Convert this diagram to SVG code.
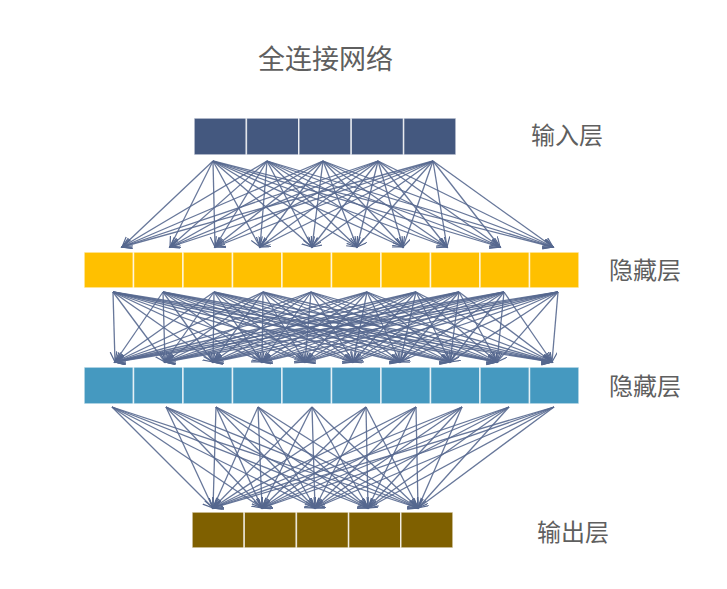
<svg xmlns="http://www.w3.org/2000/svg" width="727" height="589" viewBox="0 0 727 589">
<style>
.lbl{font-family:"Noto Sans CJK SC","Noto Sans",sans-serif;fill:#5f5f5f;font-size:24px}
.title{font-size:27px}
.cell{stroke:#ffffff;stroke-opacity:0.75;stroke-width:1.5}
.in{fill:#44587f}
.h1{fill:#ffc000}
.h2{fill:#4599c0}
.out{fill:#7f6000}
#connectors line{stroke:#56688f;stroke-width:1.3;stroke-opacity:0.9;marker-end:url(#ah)}
</style>
<defs>
<marker id="ah" markerWidth="12" markerHeight="10" refX="10" refY="4.5" orient="auto" markerUnits="userSpaceOnUse">
<path d="M0,0 L10,4.5 L0,9" fill="none" stroke="#56688f" stroke-width="1.2"/>
</marker>
</defs>
<rect width="727" height="589" fill="#ffffff"/>
<text class="lbl title" x="258" y="69">全连接网络</text>

<g id="connectors">
<!-- input -> hidden1 -->
<line x1="213" y1="161" x2="122" y2="247"/><line x1="213" y1="161" x2="170" y2="247"/><line x1="213" y1="161" x2="215" y2="247"/><line x1="213" y1="161" x2="260" y2="247"/><line x1="213" y1="161" x2="312" y2="247"/><line x1="213" y1="161" x2="357" y2="247"/><line x1="213" y1="161" x2="403" y2="247"/><line x1="213" y1="161" x2="447" y2="247"/><line x1="213" y1="161" x2="500" y2="247"/><line x1="213" y1="161" x2="553" y2="247"/>
<line x1="267" y1="161" x2="122" y2="247"/><line x1="267" y1="161" x2="170" y2="247"/><line x1="267" y1="161" x2="215" y2="247"/><line x1="267" y1="161" x2="260" y2="247"/><line x1="267" y1="161" x2="312" y2="247"/><line x1="267" y1="161" x2="357" y2="247"/><line x1="267" y1="161" x2="403" y2="247"/><line x1="267" y1="161" x2="447" y2="247"/><line x1="267" y1="161" x2="500" y2="247"/><line x1="267" y1="161" x2="553" y2="247"/>
<line x1="323" y1="161" x2="122" y2="247"/><line x1="323" y1="161" x2="170" y2="247"/><line x1="323" y1="161" x2="215" y2="247"/><line x1="323" y1="161" x2="260" y2="247"/><line x1="323" y1="161" x2="312" y2="247"/><line x1="323" y1="161" x2="357" y2="247"/><line x1="323" y1="161" x2="403" y2="247"/><line x1="323" y1="161" x2="447" y2="247"/><line x1="323" y1="161" x2="500" y2="247"/><line x1="323" y1="161" x2="553" y2="247"/>
<line x1="378" y1="161" x2="122" y2="247"/><line x1="378" y1="161" x2="170" y2="247"/><line x1="378" y1="161" x2="215" y2="247"/><line x1="378" y1="161" x2="260" y2="247"/><line x1="378" y1="161" x2="312" y2="247"/><line x1="378" y1="161" x2="357" y2="247"/><line x1="378" y1="161" x2="403" y2="247"/><line x1="378" y1="161" x2="447" y2="247"/><line x1="378" y1="161" x2="500" y2="247"/><line x1="378" y1="161" x2="553" y2="247"/>
<line x1="433" y1="161" x2="122" y2="247"/><line x1="433" y1="161" x2="170" y2="247"/><line x1="433" y1="161" x2="215" y2="247"/><line x1="433" y1="161" x2="260" y2="247"/><line x1="433" y1="161" x2="312" y2="247"/><line x1="433" y1="161" x2="357" y2="247"/><line x1="433" y1="161" x2="403" y2="247"/><line x1="433" y1="161" x2="447" y2="247"/><line x1="433" y1="161" x2="500" y2="247"/><line x1="433" y1="161" x2="553" y2="247"/>
<!-- hidden1 -> hidden2 -->
<line x1="113" y1="292" x2="115" y2="362"/><line x1="113" y1="292" x2="165" y2="362"/><line x1="113" y1="292" x2="213" y2="362"/><line x1="113" y1="292" x2="262" y2="362"/><line x1="113" y1="292" x2="305" y2="362"/><line x1="113" y1="292" x2="353" y2="362"/><line x1="113" y1="292" x2="400" y2="362"/><line x1="113" y1="292" x2="450" y2="362"/><line x1="113" y1="292" x2="497" y2="362"/><line x1="113" y1="292" x2="552" y2="362"/>
<line x1="163" y1="292" x2="115" y2="362"/><line x1="163" y1="292" x2="165" y2="362"/><line x1="163" y1="292" x2="213" y2="362"/><line x1="163" y1="292" x2="262" y2="362"/><line x1="163" y1="292" x2="305" y2="362"/><line x1="163" y1="292" x2="353" y2="362"/><line x1="163" y1="292" x2="400" y2="362"/><line x1="163" y1="292" x2="450" y2="362"/><line x1="163" y1="292" x2="497" y2="362"/><line x1="163" y1="292" x2="552" y2="362"/>
<line x1="214" y1="292" x2="115" y2="362"/><line x1="214" y1="292" x2="165" y2="362"/><line x1="214" y1="292" x2="213" y2="362"/><line x1="214" y1="292" x2="262" y2="362"/><line x1="214" y1="292" x2="305" y2="362"/><line x1="214" y1="292" x2="353" y2="362"/><line x1="214" y1="292" x2="400" y2="362"/><line x1="214" y1="292" x2="450" y2="362"/><line x1="214" y1="292" x2="497" y2="362"/><line x1="214" y1="292" x2="552" y2="362"/>
<line x1="263" y1="292" x2="115" y2="362"/><line x1="263" y1="292" x2="165" y2="362"/><line x1="263" y1="292" x2="213" y2="362"/><line x1="263" y1="292" x2="262" y2="362"/><line x1="263" y1="292" x2="305" y2="362"/><line x1="263" y1="292" x2="353" y2="362"/><line x1="263" y1="292" x2="400" y2="362"/><line x1="263" y1="292" x2="450" y2="362"/><line x1="263" y1="292" x2="497" y2="362"/><line x1="263" y1="292" x2="552" y2="362"/>
<line x1="311" y1="292" x2="115" y2="362"/><line x1="311" y1="292" x2="165" y2="362"/><line x1="311" y1="292" x2="213" y2="362"/><line x1="311" y1="292" x2="262" y2="362"/><line x1="311" y1="292" x2="305" y2="362"/><line x1="311" y1="292" x2="353" y2="362"/><line x1="311" y1="292" x2="400" y2="362"/><line x1="311" y1="292" x2="450" y2="362"/><line x1="311" y1="292" x2="497" y2="362"/><line x1="311" y1="292" x2="552" y2="362"/>
<line x1="367" y1="292" x2="115" y2="362"/><line x1="367" y1="292" x2="165" y2="362"/><line x1="367" y1="292" x2="213" y2="362"/><line x1="367" y1="292" x2="262" y2="362"/><line x1="367" y1="292" x2="305" y2="362"/><line x1="367" y1="292" x2="353" y2="362"/><line x1="367" y1="292" x2="400" y2="362"/><line x1="367" y1="292" x2="450" y2="362"/><line x1="367" y1="292" x2="497" y2="362"/><line x1="367" y1="292" x2="552" y2="362"/>
<line x1="416" y1="292" x2="115" y2="362"/><line x1="416" y1="292" x2="165" y2="362"/><line x1="416" y1="292" x2="213" y2="362"/><line x1="416" y1="292" x2="262" y2="362"/><line x1="416" y1="292" x2="305" y2="362"/><line x1="416" y1="292" x2="353" y2="362"/><line x1="416" y1="292" x2="400" y2="362"/><line x1="416" y1="292" x2="450" y2="362"/><line x1="416" y1="292" x2="497" y2="362"/><line x1="416" y1="292" x2="552" y2="362"/>
<line x1="459" y1="292" x2="115" y2="362"/><line x1="459" y1="292" x2="165" y2="362"/><line x1="459" y1="292" x2="213" y2="362"/><line x1="459" y1="292" x2="262" y2="362"/><line x1="459" y1="292" x2="305" y2="362"/><line x1="459" y1="292" x2="353" y2="362"/><line x1="459" y1="292" x2="400" y2="362"/><line x1="459" y1="292" x2="450" y2="362"/><line x1="459" y1="292" x2="497" y2="362"/><line x1="459" y1="292" x2="552" y2="362"/>
<line x1="504" y1="292" x2="115" y2="362"/><line x1="504" y1="292" x2="165" y2="362"/><line x1="504" y1="292" x2="213" y2="362"/><line x1="504" y1="292" x2="262" y2="362"/><line x1="504" y1="292" x2="305" y2="362"/><line x1="504" y1="292" x2="353" y2="362"/><line x1="504" y1="292" x2="400" y2="362"/><line x1="504" y1="292" x2="450" y2="362"/><line x1="504" y1="292" x2="497" y2="362"/><line x1="504" y1="292" x2="552" y2="362"/>
<line x1="558" y1="292" x2="115" y2="362"/><line x1="558" y1="292" x2="165" y2="362"/><line x1="558" y1="292" x2="213" y2="362"/><line x1="558" y1="292" x2="262" y2="362"/><line x1="558" y1="292" x2="305" y2="362"/><line x1="558" y1="292" x2="353" y2="362"/><line x1="558" y1="292" x2="400" y2="362"/><line x1="558" y1="292" x2="450" y2="362"/><line x1="558" y1="292" x2="497" y2="362"/><line x1="558" y1="292" x2="552" y2="362"/>
<!-- hidden2 -> output -->
<line x1="112" y1="407" x2="213" y2="508"/><line x1="112" y1="407" x2="262" y2="508"/><line x1="112" y1="407" x2="315" y2="508"/><line x1="112" y1="407" x2="368" y2="508"/><line x1="112" y1="407" x2="418" y2="508"/>
<line x1="166" y1="407" x2="213" y2="508"/><line x1="166" y1="407" x2="262" y2="508"/><line x1="166" y1="407" x2="315" y2="508"/><line x1="166" y1="407" x2="368" y2="508"/><line x1="166" y1="407" x2="418" y2="508"/>
<line x1="216" y1="407" x2="213" y2="508"/><line x1="216" y1="407" x2="262" y2="508"/><line x1="216" y1="407" x2="315" y2="508"/><line x1="216" y1="407" x2="368" y2="508"/><line x1="216" y1="407" x2="418" y2="508"/>
<line x1="258" y1="407" x2="213" y2="508"/><line x1="258" y1="407" x2="262" y2="508"/><line x1="258" y1="407" x2="315" y2="508"/><line x1="258" y1="407" x2="368" y2="508"/><line x1="258" y1="407" x2="418" y2="508"/>
<line x1="312" y1="407" x2="213" y2="508"/><line x1="312" y1="407" x2="262" y2="508"/><line x1="312" y1="407" x2="315" y2="508"/><line x1="312" y1="407" x2="368" y2="508"/><line x1="312" y1="407" x2="418" y2="508"/>
<line x1="366" y1="407" x2="213" y2="508"/><line x1="366" y1="407" x2="262" y2="508"/><line x1="366" y1="407" x2="315" y2="508"/><line x1="366" y1="407" x2="368" y2="508"/><line x1="366" y1="407" x2="418" y2="508"/>
<line x1="416" y1="407" x2="213" y2="508"/><line x1="416" y1="407" x2="262" y2="508"/><line x1="416" y1="407" x2="315" y2="508"/><line x1="416" y1="407" x2="368" y2="508"/><line x1="416" y1="407" x2="418" y2="508"/>
<line x1="462" y1="407" x2="213" y2="508"/><line x1="462" y1="407" x2="262" y2="508"/><line x1="462" y1="407" x2="315" y2="508"/><line x1="462" y1="407" x2="368" y2="508"/><line x1="462" y1="407" x2="418" y2="508"/>
<line x1="509" y1="407" x2="213" y2="508"/><line x1="509" y1="407" x2="262" y2="508"/><line x1="509" y1="407" x2="315" y2="508"/><line x1="509" y1="407" x2="368" y2="508"/><line x1="509" y1="407" x2="418" y2="508"/>
<line x1="554" y1="407" x2="213" y2="508"/><line x1="554" y1="407" x2="262" y2="508"/><line x1="554" y1="407" x2="315" y2="508"/><line x1="554" y1="407" x2="368" y2="508"/><line x1="554" y1="407" x2="418" y2="508"/>
</g>

<g id="input-layer">
<rect class="cell in" x="194" y="118" width="52.4" height="37"/>
<rect class="cell in" x="246.4" y="118" width="52.4" height="37"/>
<rect class="cell in" x="298.8" y="118" width="52.4" height="37"/>
<rect class="cell in" x="351.2" y="118" width="52.4" height="37"/>
<rect class="cell in" x="403.6" y="118" width="52.4" height="37"/>
<text class="lbl" x="531" y="144">输入层</text>
</g>

<g id="hidden-layer-1">
<rect class="cell h1" x="84" y="252" width="49.5" height="36"/>
<rect class="cell h1" x="133.5" y="252" width="49.5" height="36"/>
<rect class="cell h1" x="183" y="252" width="49.5" height="36"/>
<rect class="cell h1" x="232.5" y="252" width="49.5" height="36"/>
<rect class="cell h1" x="282" y="252" width="49.5" height="36"/>
<rect class="cell h1" x="331.5" y="252" width="49.5" height="36"/>
<rect class="cell h1" x="381" y="252" width="49.5" height="36"/>
<rect class="cell h1" x="430.5" y="252" width="49.5" height="36"/>
<rect class="cell h1" x="480" y="252" width="49.5" height="36"/>
<rect class="cell h1" x="529.5" y="252" width="49.5" height="36"/>
<text class="lbl" x="609" y="279">隐藏层</text>
</g>

<g id="hidden-layer-2">
<rect class="cell h2" x="84" y="367" width="49.5" height="37"/>
<rect class="cell h2" x="133.5" y="367" width="49.5" height="37"/>
<rect class="cell h2" x="183" y="367" width="49.5" height="37"/>
<rect class="cell h2" x="232.5" y="367" width="49.5" height="37"/>
<rect class="cell h2" x="282" y="367" width="49.5" height="37"/>
<rect class="cell h2" x="331.5" y="367" width="49.5" height="37"/>
<rect class="cell h2" x="381" y="367" width="49.5" height="37"/>
<rect class="cell h2" x="430.5" y="367" width="49.5" height="37"/>
<rect class="cell h2" x="480" y="367" width="49.5" height="37"/>
<rect class="cell h2" x="529.5" y="367" width="49.5" height="37"/>
<text class="lbl" x="609" y="395">隐藏层</text>
</g>

<g id="output-layer">
<rect class="cell out" x="192" y="512" width="52.2" height="36"/>
<rect class="cell out" x="244.2" y="512" width="52.2" height="36"/>
<rect class="cell out" x="296.4" y="512" width="52.2" height="36"/>
<rect class="cell out" x="348.6" y="512" width="52.2" height="36"/>
<rect class="cell out" x="400.8" y="512" width="52.2" height="36"/>
<text class="lbl" x="537" y="541">输出层</text>
</g>
</svg>
